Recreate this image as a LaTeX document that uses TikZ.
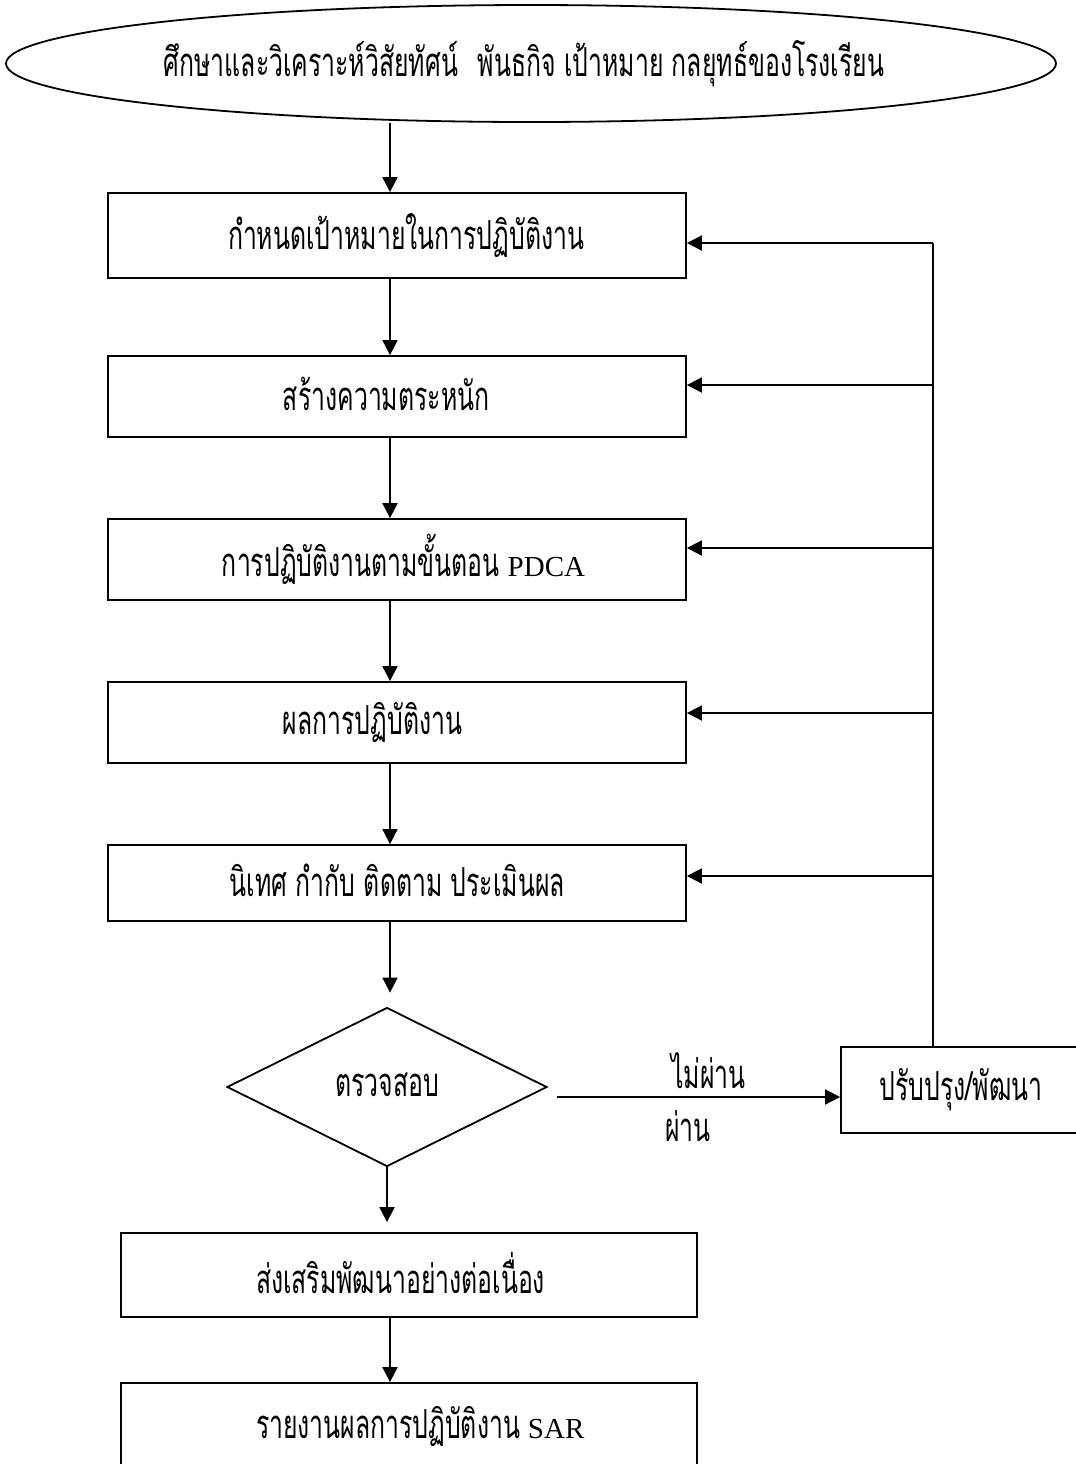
\documentclass[tikz,border=0pt]{standalone}
\usepackage{fontspec}
\usetikzlibrary{shapes.geometric,arrows.meta}
\newfontfamily\thaifont[Script=Thai,FakeStretch=0.62]{Loma}
\newfontfamily\latfont{Liberation Serif}
\newcommand\padtxt[3]{\makebox[#1][l]{\hspace*{#2}\raisebox{2.5pt}{#3}}}
\newcommand\lt[1]{{\latfont\fontsize{14.5}{16}\selectfont #1}}
\begin{document}
\begin{tikzpicture}[x=0.5pt,y=-0.5pt,
  every node/.style={font=\thaifont\fontsize{20}{24}\selectfont},
  shp/.style={draw,line width=0.9pt,inner sep=0pt},
  procbox/.style={shp,rectangle,minimum height=#1},
  arr/.style={line width=0.9pt,-{Triangle[length=7.5pt,width=7.5pt]}},
  ln/.style={line width=0.9pt}]
\useasboundingbox (0,0) rectangle (1076,1464);
\coordinate (ax) at (390,0);
\coordinate (fx) at (933,0);

\node[shp,ellipse,minimum width=525pt,minimum height=58.5pt] (e) at (531,63.5)
  {\makebox[0pt]{ศึกษาและวิเคราะห์วิสัยทัศน์\hspace{0.5em}พันธกิจ เป้าหมาย กลยุทธ์ของโรงเรียน\hspace*{7pt}}};

\node[procbox=42.5pt] (b1) at (397,235.5) {\padtxt{289pt}{60pt}{กำหนดเป้าหมายในการปฏิบัติงาน}};
\node[procbox=40.5pt] (b2) at (397,396.5) {\padtxt{289pt}{87.5pt}{สร้างความตระหนัก}};
\node[procbox=40.5pt] (b3) at (397,559.5) {\padtxt{289pt}{57pt}{การปฏิบัติงานตามขั้นตอน\hspace{0.2em}\lt{PDCA}}};
\node[procbox=40.5pt] (b4) at (397,722.5) {\padtxt{289pt}{87.5pt}{ผลการปฏิบัติงาน}};
\node[procbox=38pt] (b5) at (397,883) {\padtxt{289pt}{61pt}{นิเทศ กำกับ ติดตาม ประเมินผล}};

\node[shp,diamond,minimum width=160pt,minimum height=79.5pt] (d) at (387,1087) {\raisebox{2pt}{ตรวจสอบ}};

\node[procbox=43pt,minimum width=120pt] (r) at (961,1090) {\raisebox{2.5pt}{ปรับปรุง/พัฒนา}};

\node[procbox=42pt] (b6) at (409,1275) {\padtxt{288pt}{67.5pt}{ส่งเสริมพัฒนาอย่างต่อเนื่อง}};
\node[procbox=43.5pt] (b7) at (409,1426.5) {\padtxt{288pt}{67.5pt}{รายงานผลการปฏิบัติงาน\hspace{0.2em}\lt{SAR}}};

% main flow
\draw[arr] (e.south -| ax) -- (b1.north -| ax);
\draw[arr] (b1.south -| ax) -- (b2.north -| ax);
\draw[arr] (b2.south -| ax) -- (b3.north -| ax);
\draw[arr] (b3.south -| ax) -- (b4.north -| ax);
\draw[arr] (b4.south -| ax) -- (b5.north -| ax);
\draw[arr,shorten >=7pt] (b5.south -| ax) -- (d.north -| ax);
\draw[arr,shorten >=5pt] (d.south) -- (d.south |- b6.north);
\draw[arr] (b6.south -| ax) -- (b7.north -| ax);

% not passed
\draw[arr,shorten <=4.5pt] ([yshift=-5pt]d.east) -- ([yshift=-5pt]d.east -| r.west)
  node[pos=0.55,yshift=13pt] {ไม่ผ่าน}
  node[pos=0.48,yshift=-14.5pt] {ผ่าน};

% feedback
\draw[ln] (r.north -| fx) -- ([yshift=-3.75pt]b1.east -| fx);
\draw[arr] ([yshift=-3.75pt]b1.east -| fx) -- ([yshift=-3.75pt]b1.east);
\draw[arr] ([yshift=5.75pt]b2.east -| fx) -- ([yshift=5.75pt]b2.east);
\draw[arr] ([yshift=5.75pt]b3.east -| fx) -- ([yshift=5.75pt]b3.east);
\draw[arr] ([yshift=4.75pt]b4.east -| fx) -- ([yshift=4.75pt]b4.east);
\draw[arr] ([yshift=3.5pt]b5.east -| fx) -- ([yshift=3.5pt]b5.east);
\end{tikzpicture}
\end{document}
